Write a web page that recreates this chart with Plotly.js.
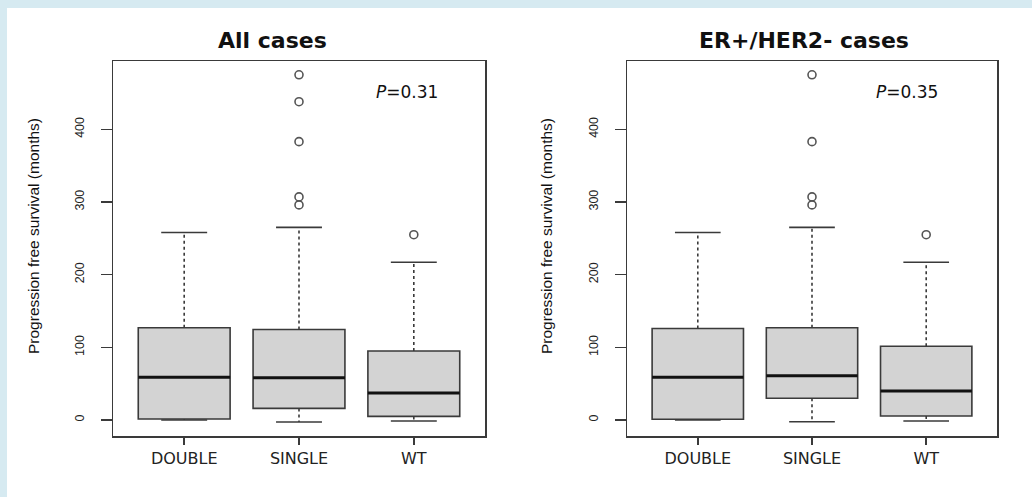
<!DOCTYPE html>
<html>
<head>
<meta charset="utf-8">
<script src="https://cdn.plot.ly/plotly-3.0.1.min.js"></script>
<style>
  html, body { margin: 0; padding: 0; background: #ffffff; }
  #chart { width: 1032px; height: 497px; }
</style>
</head>
<body>
<div id="chart"></div>
<script>
// ---- data ----
const categories = ['DOUBLE', 'SINGLE', 'WT'];
const positions = [1, 2, 3];

// All cases
const allQ1 = [1.4, 16, 5];
const allMedian = [59, 58, 37];
const allQ3 = [127, 124.5, 95];
const allLowerWhisker = [0, -2.8, -1.4];
const allUpperWhisker = [258, 265, 217];
const allOutliersSingle = [475, 438, 383, 307, 296];
const allOutliersWT = [255];
const allPText = 'P=0.31';

// ER+/HER2- cases
const erQ1 = [1, 30, 5.5];
const erMedian = [59, 61, 40];
const erQ3 = [126, 127, 101.5];
const erLowerWhisker = [0, -2.3, -1.4];
const erUpperWhisker = [258, 265, 217];
const erOutliersSingle = [475, 383, 307, 296];
const erOutliersWT = [255];
const erPText = 'P=0.35';

const panelTitles = ['All cases', 'ER+/HER2- cases'];
const yTitle = 'Progression free survival (months)';
const yTicks = [0, 100, 200, 300, 400];

// ---- styling ----
const BOXW = 0.8, CAPW = 0.4;
const EDGE = '#3a3a3a';
const SANS = '"Liberation Sans", Arial, Helvetica, sans-serif';
const WIDE = '"DejaVu Sans", "Liberation Sans", Arial, sans-serif';

function panelTraces(q1, med, q3, lo, hi, outS, outW, xa, ya) {
  const traces = [];
  traces.push({
    type: 'box', x: positions, q1: q1, median: med, q3: q3,
    lowerfence: q1, upperfence: q3, width: BOXW, whiskerwidth: 0,
    boxpoints: false, fillcolor: '#d3d3d3',
    line: { color: EDGE, width: 1.6 }, xaxis: xa, yaxis: ya,
    hoverinfo: 'skip', showlegend: false
  });
  // whiskers (dotted)
  const wx = [], wy = [];
  positions.forEach((p, i) => {
    wx.push(p, p, null, p, p, null);
    wy.push(q3[i], hi[i], null, q1[i], lo[i], null);
  });
  traces.push({ type: 'scatter', mode: 'lines', x: wx, y: wy, xaxis: xa, yaxis: ya,
    line: { color: EDGE, width: 1.6, dash: 'dot' }, hoverinfo: 'skip', showlegend: false });
  // caps
  const cx = [], cy = [];
  positions.forEach((p, i) => {
    cx.push(p - CAPW / 2, p + CAPW / 2, null, p - CAPW / 2, p + CAPW / 2, null);
    cy.push(hi[i], hi[i], null, lo[i], lo[i], null);
  });
  traces.push({ type: 'scatter', mode: 'lines', x: cx, y: cy, xaxis: xa, yaxis: ya,
    line: { color: EDGE, width: 1.6 }, hoverinfo: 'skip', showlegend: false });
  // medians (thick)
  const mx = [], my = [];
  positions.forEach((p, i) => {
    mx.push(p - BOXW / 2, p + BOXW / 2, null);
    my.push(med[i], med[i], null);
  });
  traces.push({ type: 'scatter', mode: 'lines', x: mx, y: my, xaxis: xa, yaxis: ya,
    line: { color: '#111111', width: 3 }, hoverinfo: 'skip', showlegend: false });
  // outliers
  const ox = [], oy = [];
  outS.forEach(v => { ox.push(positions[1]); oy.push(v); });
  outW.forEach(v => { ox.push(positions[2]); oy.push(v); });
  traces.push({ type: 'scatter', mode: 'markers', x: ox, y: oy, xaxis: xa, yaxis: ya,
    marker: { symbol: 'circle-open', size: 8, color: '#555555', line: { width: 1.6, color: '#555555' } },
    hoverinfo: 'skip', showlegend: false });
  return traces;
}

const data = [
  ...panelTraces(allQ1, allMedian, allQ3, allLowerWhisker, allUpperWhisker, allOutliersSingle, allOutliersWT, 'x', 'y'),
  ...panelTraces(erQ1, erMedian, erQ3, erLowerWhisker, erUpperWhisker, erOutliersSingle, erOutliersWT, 'x2', 'y2')
];

const W = 1032, H = 497;
function xAxis(dom, anchor) {
  return {
    domain: dom, anchor: anchor, range: [0.38, 3.62], showgrid: false, zeroline: false,
    tickmode: 'array', tickvals: positions, ticktext: categories,
    ticks: 'outside', ticklen: 7, tickwidth: 1.5, tickcolor: EDGE,
    showline: true, mirror: true, linecolor: EDGE, linewidth: 1.5,
    tickfont: { family: WIDE, size: 16, color: '#222222' }, ticklabelstandoff: 0
  };
}
function yAxis(anchor) {
  return {
    domain: [(H - 436) / H, (H - 61) / H], anchor: anchor, range: [-22, 494],
    showgrid: false, zeroline: false, tickmode: 'array', tickvals: yTicks,
    ticks: 'outside', ticklen: 11, tickwidth: 1.5, tickcolor: EDGE, tickangle: -90,
    showline: true, mirror: true, linecolor: EDGE, linewidth: 1.5,
    tickfont: { family: SANS, size: 12.5, color: '#222222' }, ticklabelstandoff: 12
  };
}

const ann = (text, x, y, opts) => Object.assign({ text: text, x: x, y: y, xref: 'paper', yref: 'paper', showarrow: false }, opts);

const layout = {
  width: W, height: H, margin: { l: 0, r: 0, t: 0, b: 0 },
  paper_bgcolor: '#ffffff', plot_bgcolor: '#ffffff', showlegend: false,
  xaxis: xAxis([113 / W, 485 / W], 'y'),
  yaxis: yAxis('x'),
  xaxis2: xAxis([627 / W, 997 / W], 'y2'),
  yaxis2: yAxis('x2'),
  shapes: [
    { type: 'rect', xref: 'paper', yref: 'paper', x0: 0, x1: 1, y0: 1 - 8 / H, y1: 1,
      fillcolor: '#d6eaf1', line: { width: 0 }, layer: 'below' },
    { type: 'rect', xref: 'paper', yref: 'paper', x0: 0, x1: 7 / W, y0: 0, y1: 1,
      fillcolor: '#d6eaf1', line: { width: 0 }, layer: 'below' }
  ],
  annotations: [
    ann('<b>' + panelTitles[0] + '</b>', 272 / W, 1 - 41 / H, { font: { family: WIDE, size: 22, color: '#111111' }, xanchor: 'center', yanchor: 'middle' }),
    ann('<b>' + panelTitles[1] + '</b>', 804 / W, 1 - 41 / H, { font: { family: WIDE, size: 22, color: '#111111' }, xanchor: 'center', yanchor: 'middle' }),
    ann(yTitle, 33 / W, 1 - 236 / H, { textangle: -90, font: { family: SANS, size: 15.5, color: '#111111' }, xanchor: 'center', yanchor: 'middle' }),
    ann(yTitle, 546 / W, 1 - 236 / H, { textangle: -90, font: { family: SANS, size: 15.5, color: '#111111' }, xanchor: 'center', yanchor: 'middle' }),
    { text: '<i>' + allPText.slice(0, 1) + '</i>' + allPText.slice(1), x: 2.65, y: 452, xref: 'x', yref: 'y',
      showarrow: false, xanchor: 'left', yanchor: 'middle', font: { family: WIDE, size: 17, color: '#111111' } },
    { text: '<i>' + erPText.slice(0, 1) + '</i>' + erPText.slice(1), x: 2.54, y: 452, xref: 'x2', yref: 'y2',
      showarrow: false, xanchor: 'left', yanchor: 'middle', font: { family: WIDE, size: 17, color: '#111111' } }
  ]
};

Plotly.newPlot('chart', data, layout, { staticPlot: true, displayModeBar: false });
</script>
</body>
</html>
